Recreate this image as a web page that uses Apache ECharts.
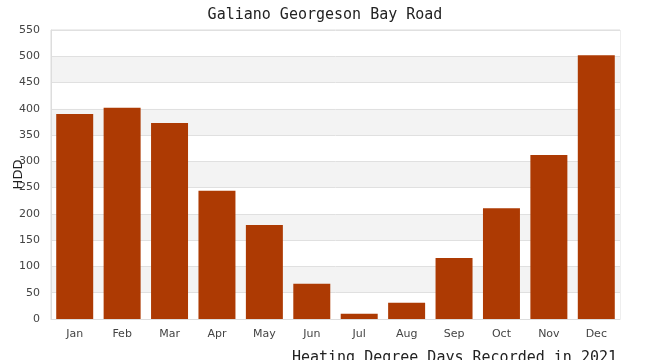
<!DOCTYPE html>
<html><head><meta charset="utf-8">
<script src="https://cdn.jsdelivr.net/npm/echarts@6/dist/echarts.min.js"></script>
<style>html,body{margin:0;padding:0;background:#fff}#c{width:650px;height:360px}</style>
</head><body><div id="c"></div>
<script>
const months = ['Jan','Feb','Mar','Apr','May','Jun','Jul','Aug','Sep','Oct','Nov','Dec'];
const hdd = [390, 402, 373, 244, 179, 67, 10, 31, 116, 211, 312, 502];
const yTicks = {min: 0, max: 550, interval: 50};

const chart = echarts.init(document.getElementById('c'), null, {renderer: 'canvas'});
chart.setOption({
  animation: false,
  backgroundColor: '#fff',
  title: [{
    text: 'Galiano Georgeson Bay Road',
    left: 'center', top: 3,
    textStyle: {fontFamily: 'DejaVu Sans Mono', fontSize: 15, fontWeight: 'normal', color: '#222'}
  }, {
    text: 'Heating Degree Days Recorded in 2021',
    right: 28, top: 346,
    textStyle: {fontFamily: 'DejaVu Sans Mono', fontSize: 15, fontWeight: 'normal', color: '#222'}
  }],
  grid: {left: 51, right: 30, top: 30, bottom: 41, containLabel: false, outerBoundsMode: 'none',
         show: true, borderColor: '#ddd', borderWidth: 1},
  xAxis: {
    type: 'category', data: months,
    axisLine: {lineStyle: {color: '#ddd'}},
    axisTick: {show: false},
    axisLabel: {fontFamily: 'DejaVu Sans', fontSize: 11, color: '#444', margin: 10}
  },
  yAxis: {
    type: 'value', min: yTicks.min, max: yTicks.max, interval: yTicks.interval,
    name: 'HDD', nameLocation: 'middle', nameGap: 26, nameRotate: 90, nameMoveOverlap: false,
    nameTextStyle: {fontFamily: 'DejaVu Sans', fontSize: 13, color: '#222'},
    axisLine: {show: true, lineStyle: {color: '#ddd'}},
    axisTick: {show: false},
    axisLabel: {fontFamily: 'DejaVu Sans', fontSize: 11, color: '#444', margin: 11},
    splitLine: {lineStyle: {color: '#e0e0e0'}},
    splitArea: {show: true, areaStyle: {color: ['#ffffff', '#f3f3f3']}}
  },
  series: [{
    type: 'bar', data: hdd, barCategoryGap: '22%',
    itemStyle: {color: '#ad3a03'}
  }]
});
</script></body></html>
